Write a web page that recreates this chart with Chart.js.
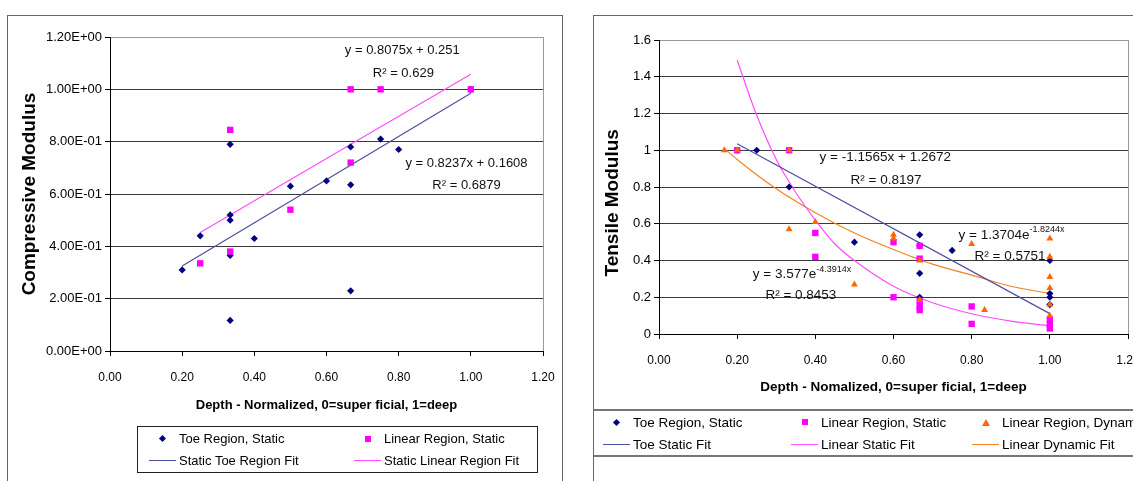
<!DOCTYPE html>
<html>
<head>
<meta charset="utf-8">
<script src="https://cdn.jsdelivr.net/npm/chart.js@4.4.1/dist/chart.umd.min.js"></script>
<style>
    html, body { margin: 0; padding: 0; background: #fff; overflow: hidden; width: 1133px; height: 481px; }
    body { position: relative; font-family: "Liberation Sans", Arial, sans-serif; color: #000; }
    .frame { position: absolute; border: 1px solid #666; box-sizing: border-box; }
    #comp_frame { left: 7px; top: 15px; width: 556px; height: 500px; }
    #tens_frame { left: 593px; top: 15px; width: 600px; height: 500px; }
    canvas { position: absolute; }
    #comp_chart { left: 8px; top: 16px; }
    #tens_chart { left: 594px; top: 16px; }
    .legend { position: absolute; display: grid; box-sizing: border-box; }
    #comp_legend { left: 137px; top: 426px; width: 401px; height: 47px; border: 1px solid #222; font-size: 13px;
        grid-template-columns: 205px 190px; padding: 0 0 0 11px; grid-auto-rows: 22px; align-content: center; }
    #tens_legend { left: 593px; top: 409px; width: 600px; height: 48px; border-top: 2px solid #777; border-bottom: 2px solid #777;
        font-size: 13.5px; grid-template-columns: 188px 181px 220px; padding: 0 0 0 10px; grid-auto-rows: 22px; align-content: center; }
    .item { display: flex; align-items: center; white-space: nowrap; }
    .key { display: inline-flex; width: 27px; justify-content: center; align-items: center; margin-right: 3px; }
    .mk-rectRot { width: 5px; height: 5px; transform: rotate(45deg); }
    .mk-rect { width: 6px; height: 6px; }
    .mk-triangle { width: 0; height: 0; border-left: 4px solid transparent; border-right: 4px solid transparent; border-bottom: 7px solid; }
    .mk-line { width: 27px; height: 1px; }
</style>
</head>
<body>
<div class="frame" id="comp_frame"></div>
<div class="frame" id="tens_frame"></div>
<canvas id="comp_chart" width="562" height="465"></canvas>
<canvas id="tens_chart" width="600" height="465"></canvas>
<div class="legend" id="comp_legend"></div>
<div class="legend" id="tens_legend"></div>
<script>
// ---------------- DATA -----------------
const depthTicks = [0, 0.2, 0.4, 0.6, 0.8, 1.0, 1.2];
const compTicks = [0, 0.2, 0.4, 0.6, 0.8, 1.0, 1.2];
const tensTicks = [0, 0.2, 0.4, 0.6, 0.8, 1.0, 1.2, 1.4, 1.6];

// compressive modulus (left)
const compToeX = [0.2, 0.25, 0.333, 0.333, 0.333, 0.333, 0.333, 0.4, 0.5, 0.6, 0.667, 0.667, 0.667, 0.75, 0.8, 1.0];
const compToeY = [0.31, 0.44, 0.79, 0.52, 0.50, 0.365, 0.117, 0.43, 0.63, 0.65, 0.78, 0.635, 0.23, 0.81, 0.77, 1.0];
const compLinX = [0.25, 0.333, 0.333, 0.5, 0.667, 0.667, 0.75, 1.0];
const compLinY = [0.335, 0.845, 0.38, 0.54, 1.0, 0.72, 1.0, 1.0];
const compToeFitX = [0.2, 1.0];
const compToeFitY = [0.325, 0.985];
const compLinFitX = [0.25, 1.0];
const compLinFitY = [0.453, 1.058];

// tensile modulus (right)
const tensToeX = [0.2, 0.25, 0.333, 0.5, 0.667, 0.667, 0.667, 0.667, 0.75, 1.0, 1.0, 1.0, 1.0];
const tensToeY = [1.0, 1.0, 0.80, 0.50, 0.54, 0.48, 0.33, 0.20, 0.455, 0.40, 0.22, 0.20, 0.16];
const tensLinX = [0.2, 0.333, 0.4, 0.4, 0.6, 0.6, 0.667, 0.667, 0.667, 0.667, 0.667, 0.8, 0.8, 1.0, 1.0, 1.0];
const tensLinY = [1.0, 1.0, 0.55, 0.42, 0.50, 0.20, 0.48, 0.41, 0.18, 0.15, 0.13, 0.15, 0.055, 0.08, 0.05, 0.03];
const tensDynX = [0.167, 0.2, 0.333, 0.333, 0.4, 0.5, 0.6, 0.6, 0.667, 0.667, 0.8, 0.833, 1.0, 1.0, 1.0, 1.0, 1.0, 1.0];
const tensDynY = [1.0, 1.0, 1.0, 0.57, 0.61, 0.27, 0.54, 0.52, 0.40, 0.185, 0.49, 0.13, 0.52, 0.42, 0.31, 0.25, 0.16, 0.10];
const tensToeFitX = [0.2, 1.0];
const tensToeFitY = [1.035, 0.111];
const tensLinFitX = [0.2, 0.25, 0.3, 0.35, 0.4, 0.45, 0.5, 0.6, 0.7, 0.8, 0.9, 1.0];
const tensLinFitY = [1.49, 1.19, 0.95, 0.77, 0.62, 0.49, 0.40, 0.26, 0.17, 0.11, 0.07, 0.045];
const tensDynFitX = [0.167, 0.2, 0.3, 0.4, 0.5, 0.6, 0.7, 0.8, 0.9, 1.0];
const tensDynFitY = [1.01, 0.95, 0.79, 0.66, 0.55, 0.46, 0.38, 0.32, 0.26, 0.22];

// ----------- HELPERS -------------
const FONT = '"Liberation Sans", Arial, sans-serif';
Chart.defaults.font.family = FONT;
Chart.defaults.color = "#000";

const pts = (xs, ys) => xs.map((x, i) => ({ x, y: ys[i] }));
const near = (a, b) => Math.abs(a - b) < 1e-6;

const sciLabel = (v) => {
    const [m, e] = Number(v).toExponential(2).split("e");
    const sign = e[0] === "-" ? "-" : "+";
    return m + "E" + sign + e.replace(/[+-]/, "").padStart(2, "0");
};

// equation labels placed in data coordinates
const fitLabels = {
    id: "fitLabels",
    afterDatasetsDraw(chart, args, opts) {
        const { ctx } = chart;
        const { x, y } = chart.scales;
        const size = opts.size || 12;
        const supSize = Math.round(size * 0.65);
        ctx.save();
        ctx.fillStyle = "#111";
        ctx.textBaseline = "middle";
        ctx.textAlign = "left";
        (opts.items || []).forEach((it) => {
            const px = x.getPixelForValue(it.x);
            const py = y.getPixelForValue(it.y);
            ctx.font = size + "px " + FONT;
            const w1 = ctx.measureText(it.text).width;
            let w2 = 0;
            if (it.sup) {
                ctx.font = supSize + "px " + FONT;
                w2 = ctx.measureText(it.sup).width;
            }
            const left = px - (w1 + w2) / 2;
            ctx.font = size + "px " + FONT;
            ctx.fillText(it.text, left, py);
            if (it.sup) {
                ctx.font = supSize + "px " + FONT;
                ctx.fillText(it.sup, left + w1, py - 5);
            }
        });
        ctx.restore();
    },
};

const buildLegend = (chart, el) => {
    chart.data.datasets.forEach((ds) => {
        const item = document.createElement("div");
        item.className = "item";
        const key = document.createElement("span");
        key.className = "key";
        const mk = document.createElement("span");
        if (ds.showLine) {
            mk.className = "mk-line";
            mk.style.background = ds.borderColor;
        } else {
            mk.className = "mk-" + ds.pointStyle;
            if (ds.pointStyle === "triangle") mk.style.borderBottomColor = ds.backgroundColor;
            else mk.style.background = ds.backgroundColor;
        }
        key.appendChild(mk);
        const txt = document.createElement("span");
        txt.textContent = ds.label;
        item.appendChild(key);
        item.appendChild(txt);
        el.appendChild(item);
    });
};

const scatterSet = (label, data, color, style, radius, order) => ({
    label, data, order,
    showLine: false,
    pointStyle: style,
    pointRadius: radius,
    pointBorderWidth: 0,
    backgroundColor: color,
    borderColor: color,
});

const fitSet = (label, data, color, order) => ({
    label, data, order,
    showLine: true,
    pointRadius: 0,
    borderWidth: 1.2,
    borderColor: color,
    backgroundColor: color,
    fill: false,
    cubicInterpolationMode: "monotone",
});

const axisX = (title, titleSize, height, titlePad, max) => ({
    type: "linear",
    min: 0,
    max,
    afterBuildTicks: (s) => { s.ticks = depthTicks.map((v) => ({ value: v })); },
    afterFit: (s) => { s.height = height; },
    ticks: { callback: (v) => Number(v).toFixed(2), font: { size: 12 }, padding: 14, maxRotation: 0, autoSkip: false },
    grid: {
        drawOnChartArea: true,
        color: (c) => (c.tick && near(c.tick.value, max) ? "#9a9a9a" : "rgba(0,0,0,0)"),
        tickColor: "#000",
        tickLength: 5,
    },
    border: { color: "#000" },
    title: { display: true, text: title, font: { size: titleSize, weight: "bold" }, padding: { top: 0, bottom: titlePad } },
});

const axisY = (title, ticks, max, width, titlePad, fmt) => ({
    type: "linear",
    min: 0,
    max,
    afterBuildTicks: (s) => { s.ticks = ticks.map((v) => ({ value: v })); },
    afterFit: (s) => { s.width = width; },
    ticks: { callback: fmt, font: { size: 13 }, padding: 3 },
    grid: {
        color: (c) => (c.tick && near(c.tick.value, max) ? "#9a9a9a" : "#3a3a3a"),
        tickColor: "#000",
        tickLength: 5,
    },
    border: { color: "#000" },
    title: { display: true, text: title, font: { size: 19, weight: "bold" }, padding: { top: titlePad, bottom: 0 } },
});

// -------------- CHARTS --------------
const compChart = new Chart(document.getElementById("comp_chart"), {
    type: "scatter",
    data: {
        datasets: [
            scatterSet("Toe Region, Static", pts(compToeX, compToeY), "#000080", "rectRot", 3.6, 2),
            scatterSet("Linear Region, Static", pts(compLinX, compLinY), "#ff00ff", "rect", 4.5, 1),
            fitSet("Static Toe Region Fit", pts(compToeFitX, compToeFitY), "#4f4f9f", 3),
            fitSet("Static Linear Region Fit", pts(compLinFitX, compLinFitY), "#ff4dff", 4),
        ],
    },
    options: {
        responsive: false,
        animation: false,
        layout: { padding: { top: 21, right: 27, left: 0, bottom: 0 } },
        plugins: {
            legend: { display: false },
            tooltip: { enabled: false },
            fitLabels: {
                size: 13,
                items: [
                    { x: 0.81, y: 1.149, text: "y = 0.8075x + 0.251" },
                    { x: 0.813, y: 1.06, text: "R² = 0.629" },
                    { x: 0.988, y: 0.718, text: "y = 0.8237x + 0.1608" },
                    { x: 0.988, y: 0.633, text: "R² = 0.6879" },
                ],
            },
        },
        scales: {
            x: axisX("Depth - Normalized, 0=super ficial, 1=deep", 13, 130, 68, 1.2),
            y: axisY("Compressive Modulus", compTicks, 1.2, 102, 10, sciLabel),
        },
    },
    plugins: [fitLabels],
});

const tensChart = new Chart(document.getElementById("tens_chart"), {
    type: "scatter",
    data: {
        datasets: [
            scatterSet("Toe Region, Static", pts(tensToeX, tensToeY), "#000080", "rectRot", 3.6, 3),
            scatterSet("Linear Region, Static", pts(tensLinX, tensLinY), "#ff00ff", "rect", 4.5, 2),
            scatterSet("Linear Region, Dynamic", pts(tensDynX, tensDynY), "#ff6600", "triangle", 4, 1),
            fitSet("Toe Static Fit", pts(tensToeFitX, tensToeFitY), "#4f4f9f", 4),
            fitSet("Linear Static Fit", pts(tensLinFitX, tensLinFitY), "#ff4dff", 5),
            fitSet("Linear Dynamic Fit", pts(tensDynFitX, tensDynFitY), "#f58220", 6),
        ],
    },
    options: {
        responsive: false,
        animation: false,
        layout: { padding: { top: 24, right: 66, left: 0, bottom: 0 } },
        plugins: {
            legend: { display: false },
            tooltip: { enabled: false },
            fitLabels: {
                size: 13.5,
                items: [
                    { x: 0.579, y: 0.961, text: "y = -1.1565x + 1.2672" },
                    { x: 0.581, y: 0.834, text: "R² = 0.8197" },
                    { x: 0.902, y: 0.539, text: "y = 1.3704e", sup: "-1.8244x" },
                    { x: 0.898, y: 0.424, text: "R² = 0.5751" },
                    { x: 0.366, y: 0.326, text: "y = 3.577e", sup: "-4.3914x" },
                    { x: 0.363, y: 0.212, text: "R² = 0.8453" },
                ],
            },
        },
        scales: {
            x: axisX("Depth - Nomalized, 0=super ficial, 1=deep", 13.5, 147, 86, 1.2),
            y: axisY("Tensile Modulus      ", tensTicks, 1.6, 65, 7, (v) => String(Math.round(v * 10) / 10)),
        },
    },
    plugins: [fitLabels],
});

buildLegend(compChart, document.getElementById("comp_legend"));
buildLegend(tensChart, document.getElementById("tens_legend"));
</script>
</body>
</html>
